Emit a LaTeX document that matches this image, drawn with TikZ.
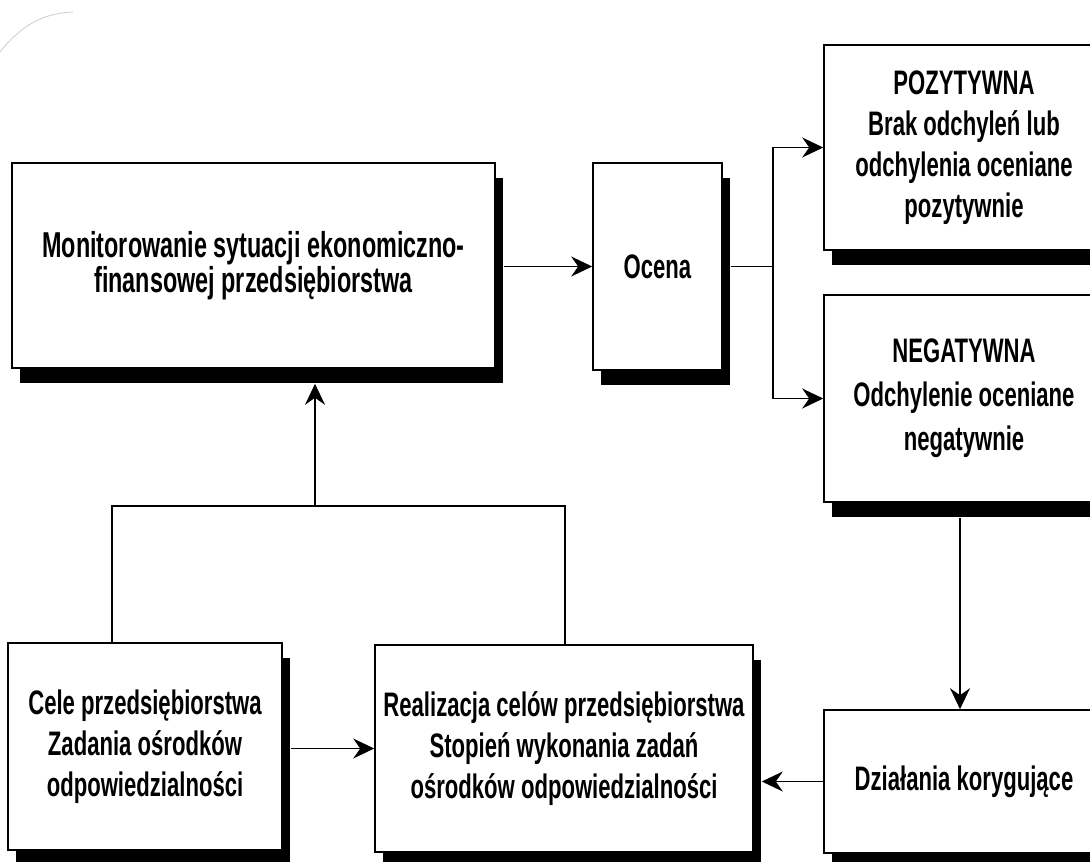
\documentclass[tikz,border=0pt]{standalone}
\usepackage{fontspec}
\newfontfamily\boxfont{Liberation Sans Bold}[FakeStretch=0.65]
\usetikzlibrary{arrows.meta,calc,shadows}
\begin{document}
\begin{tikzpicture}[x=1pt,y=-1pt,
  box/.style={draw, fill=white, line width=1.6pt, inner sep=0pt, align=center,
    font=\boxfont\fontsize{34}{41}\selectfont,
    drop shadow={shadow xshift=8pt, shadow yshift=-15pt, fill=black, opacity=1}},
  link/.style={line width=1.2pt},
  arr/.style={link, -{Stealth[length=21pt,width=20pt,inset=7pt]}}]
\fill[white] (0,0) rectangle (1090,862);
\useasboundingbox (0,0) rectangle (1090,862);
\clip (0,0) rectangle (1090,862);

% faint page edge in the upper left corner
\draw[gray!45, line width=0.7pt] (0,52) .. controls (22,24) and (45,13) .. (73,12);

% boxes
\node[box, minimum width=483pt, minimum height=205pt,
      font=\boxfont\fontsize{36}{32}\selectfont] (mon) at (253.5,265.5)
  {Monitorowanie sytuacji ekonomiczno-\\finansowej przedsiębiorstwa};
\node[box, minimum width=129pt, minimum height=207pt] (oc) at (657.5,266.5) {Ocena};
\node[box, minimum width=280pt, minimum height=205pt] (poz) at (964,147.5)
  {POZYTYWNA\\Brak odchyleń lub\\odchylenia oceniane\\pozytywnie};
\node[box, minimum width=280pt, minimum height=207pt,
      font=\boxfont\fontsize{34}{44}\selectfont] (neg) at (964,398.5)
  {NEGATYWNA\\Odchylenie oceniane\\negatywnie};
\node[box, minimum width=280pt, minimum height=143pt] (dz) at (964,781.5)
  {Działania korygujące};
\node[box, minimum width=274pt, minimum height=207pt] (cele) at (145,746.5)
  {Cele przedsiębiorstwa\\Zadania ośrodków\\odpowiedzialności};
\node[box, minimum width=378pt, minimum height=207pt] (real) at (564,748.5)
  {Realizacja celów przedsiębiorstwa\\Stopień wykonania zadań\\ośrodków odpowiedzialności};

% monitoring -> assessment
\draw[arr] ($(oc.west -| mon.east)+(8,0)$) -- (oc.west);

% assessment branches into positive and negative
\coordinate (br) at (773,0);
\draw[link] ($(oc.east)+(8,0)$) -- (oc.east -| br);
\draw[arr] (oc.east -| br) |- (poz.west);
\draw[arr] (oc.east -| br) |- (neg.west);

% negative -> corrective actions
\draw[arr] ($(neg.south)+(-4,15)$) -- ($(dz.north)+(-4,0)$);

% corrective actions -> realisation
\draw[arr] (dz.west) -- ($(dz.west -| real.east)+(8,0)$);

% goals -> realisation
\draw[arr] ($(real.west -| cele.east)+(8,0)$) -- (real.west);

% feedback to monitoring
\coordinate (fbL) at (112,506);
\coordinate (fbR) at (565,506);
\coordinate (fbM) at (315,506);
\draw[link] (cele.north -| fbL) -- (fbL) -- (fbR) -- (real.north -| fbR);
\draw[arr] (fbM) -- ($(mon.south -| fbM)+(0,15)$);
\end{tikzpicture}
\end{document}
